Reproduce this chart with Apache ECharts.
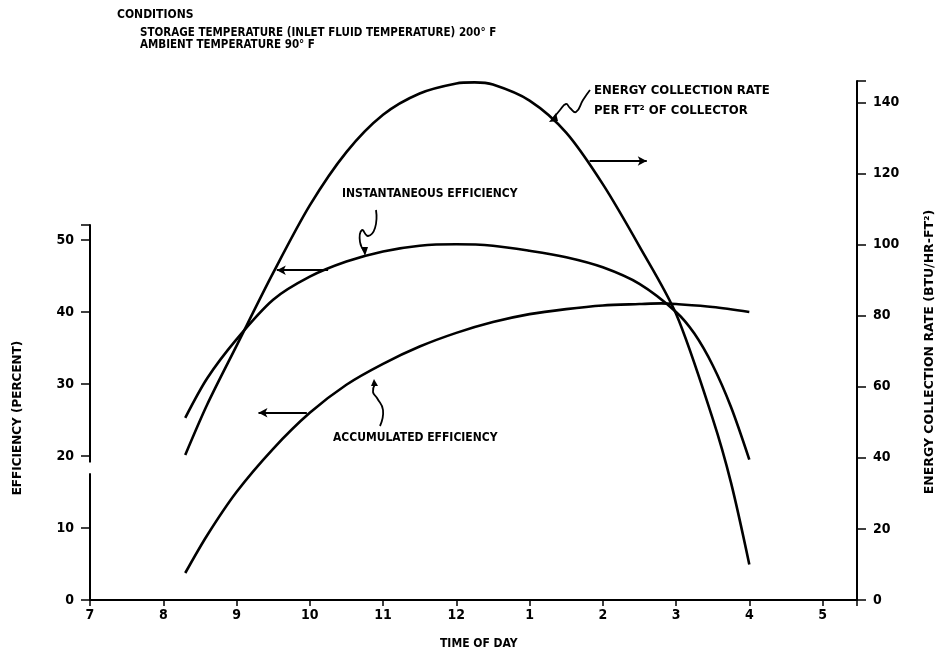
<!DOCTYPE html>
<html><head><meta charset="utf-8">
<script src="https://cdn.jsdelivr.net/npm/echarts@6/dist/echarts.min.js"></script>
<style>html,body{margin:0;padding:0;background:#fff}#c{width:940px;height:663px}</style>
</head><body><div id="c"></div>
<script>
// Time of day in hours (12 = noon, 13 = 1 PM ...)
const xTicks = [7,8,9,10,11,12,13,14,15,16,17];
const instTime  = [8.3,8.6,9.0,9.5,10.0,10.5,11.0,11.5,12.0,12.5,13.0,13.5,14.0,14.5,15.0,15.25,15.5,15.75,16.0];
const instEff   = [25.3,30.8,36.2,41.7,44.9,47.0,48.4,49.2,49.4,49.2,48.5,47.6,46.2,43.9,40.0,37.0,32.6,26.8,19.5];
const accTime   = [8.3,8.6,9.0,9.5,10.0,10.5,11.0,11.5,12.0,12.5,13.0,13.5,14.0,14.5,14.8,15.0,15.5,16.0];
const accEff    = [3.75,9.0,15.0,21.0,26.0,29.9,32.8,35.2,37.1,38.6,39.7,40.4,40.9,41.1,41.2,41.1,40.7,40.0];
const energyTime = [8.3,8.6,9.0,9.5,10.0,10.5,11.0,11.5,12.0,12.25,12.5,13.0,13.5,14.0,14.5,15.0,15.5,15.75,16.0];
const energyRate = [40.8,55,71.5,92,111,126,136.5,142.5,145.3,145.6,145,140.5,131.5,117,99.5,80.5,51,33,10];
const leftTicks = [0,10,20,30,40,50];
const rightTicks = [0,20,40,60,80,100,120,140];

const pair = (xs, ys) => xs.map((x, i) => [x, ys[i]]);
const fmtHour = v => String(v > 12 ? v - 12 : v);
const FONT = "'Liberation Sans Narrow','DejaVu Sans Condensed','Liberation Sans',sans-serif";
const lab = {color:'#000', fontFamily: FONT, fontWeight:'bold', fontSize: 13};

const chart = echarts.init(document.getElementById('c'));
chart.setOption({
  animation:false,
  backgroundColor:'#fff',
  grid:[
    {left:90, right:83, top:225, bottom:63},
    {left:90, right:83, top:81, bottom:63}
  ],
  xAxis:[
    {gridIndex:0, type:'value', min:7, max:17.47, interval:1,
     axisLine:{lineStyle:{color:'#000', width:2}},
     axisTick:{lineStyle:{color:'#000', width:1.5}, length:6},
     axisLabel:{...lab, fontSize:14, margin:8, formatter: v => (xTicks.includes(v) ? fmtHour(v) : '')},
     splitLine:{show:false}},
    {gridIndex:1, type:'value', min:7, max:17.47, show:false, splitLine:{show:false}}
  ],
  yAxis:[
    {gridIndex:0, type:'value', min:0, max:52.08, interval:10,
     axisLine:{show:true, lineStyle:{color:'#000', width:2}},
     axisTick:{show:true, length:9, lineStyle:{color:'#000', width:1.5}},
     axisLabel:{...lab, fontSize:14, margin:16, formatter: v => (leftTicks.includes(v) ? String(v) : '')},
     splitLine:{show:false}},
    {gridIndex:1, type:'value', position:'right', min:0, max:146, interval:20,
     axisLine:{show:true, lineStyle:{color:'#000', width:2}},
     axisTick:{show:true, length:9, lineStyle:{color:'#000', width:1.5}},
     axisLabel:{...lab, fontSize:14, margin:16, formatter: v => (rightTicks.includes(v) ? String(v) : '')},
     splitLine:{show:false}}
  ],
  series:[
    {type:'line', xAxisIndex:0, yAxisIndex:0, smooth:0.3, symbol:'none', clip:false,
     lineStyle:{color:'#000', width:2.6}, data: pair(instTime, instEff),
     markLine:{silent:true, symbol:['none','arrow'], symbolSize:[7,9], label:{show:false},
       lineStyle:{color:'#000', width:2, type:'solid'},
       data:[[{coord:[10.25,45.8]},{coord:[9.55,45.8]}]]}},
    {type:'line', xAxisIndex:0, yAxisIndex:0, smooth:0.3, symbol:'none', clip:false,
     lineStyle:{color:'#000', width:2.6}, data: pair(accTime, accEff),
     markLine:{silent:true, symbol:['none','arrow'], symbolSize:[7,9], label:{show:false},
       lineStyle:{color:'#000', width:2, type:'solid'},
       data:[[{coord:[9.96,26]},{coord:[9.3,26]}]]}},
    {type:'line', xAxisIndex:1, yAxisIndex:1, smooth:0.3, symbol:'none', clip:false,
     lineStyle:{color:'#000', width:2.6}, data: pair(energyTime, energyRate),
     markLine:{silent:true, symbol:['none','arrow'], symbolSize:[7,9], label:{show:false},
       lineStyle:{color:'#000', width:2, type:'solid'},
       data:[[{coord:[13.82,123.5]},{coord:[14.6,123.5]}]]}},
    // small gap (break) in the left axis line
    {type:'line', xAxisIndex:0, yAxisIndex:0, symbol:'none', clip:false, z:5,
     lineStyle:{color:'#fff', width:5}, data:[[7,17.6],[7,19.1]]}
  ],
  graphic:[
    {type:'text', left:117, top:9, style:{text:'CONDITIONS', font:"bold 12px "+FONT, fill:'#000'}},
    {type:'text', left:140, top:27, style:{text:'STORAGE TEMPERATURE (INLET FLUID TEMPERATURE) 200° F', font:"bold 11.5px "+FONT, fill:'#000'}},
    {type:'text', left:140, top:39, style:{text:'AMBIENT TEMPERATURE 90° F', font:"bold 11.5px "+FONT, fill:'#000'}},
    {type:'text', left:594, top:84, style:{text:'ENERGY COLLECTION RATE', font:"bold 13px "+FONT, fill:'#000'}},
    {type:'text', left:594, top:104, style:{text:'PER FT² OF COLLECTOR', font:"bold 13px "+FONT, fill:'#000'}},
    {type:'text', left:342, top:188, style:{text:'INSTANTANEOUS EFFICIENCY', font:"bold 12px "+FONT, fill:'#000'}},
    {type:'text', left:333, top:432, style:{text:'ACCUMULATED EFFICIENCY', font:"bold 12px "+FONT, fill:'#000'}},
    {type:'text', left:440, top:638, style:{text:'TIME OF DAY', font:"bold 12px "+FONT, fill:'#000'}},
    {type:'text', x:18, y:418, rotation:Math.PI/2, style:{text:'EFFICIENCY (PERCENT)', font:"bold 12px 'DejaVu Sans',sans-serif", fill:'#000', align:'center', verticalAlign:'middle'}},
    {type:'text', x:930, y:352, rotation:Math.PI/2, style:{text:'ENERGY COLLECTION RATE (BTU/HR-FT²)', font:"bold 12.5px 'DejaVu Sans',sans-serif", fill:'#000', align:'center', verticalAlign:'middle'}},
    // squiggly pointers
    {type:'polyline', shape:{points:[[590,90],[583,100],[576,112],[570,108],[566,104],[560,110],[553,119]], smooth:0.5}, style:{stroke:'#000', lineWidth:1.8, fill:null}},
    {type:'polygon', shape:{points:[[549,122],[556,113],[558,121]]}, style:{fill:'#000'}},
    {type:'polyline', shape:{points:[[376,210],[375,228],[368,236],[362,230],[360,242],[365,252]], smooth:0.5}, style:{stroke:'#000', lineWidth:1.8, fill:null}},
    {type:'polygon', shape:{points:[[361,247],[368,247],[365,256]]}, style:{fill:'#000'}},
    {type:'polyline', shape:{points:[[380,426],[383,410],[377,398],[373,392],[375,384]], smooth:0.5}, style:{stroke:'#000', lineWidth:1.8, fill:null}},
    {type:'polygon', shape:{points:[[371,386],[378,386],[374,379]]}, style:{fill:'#000'}}
  ]
});
</script></body></html>
